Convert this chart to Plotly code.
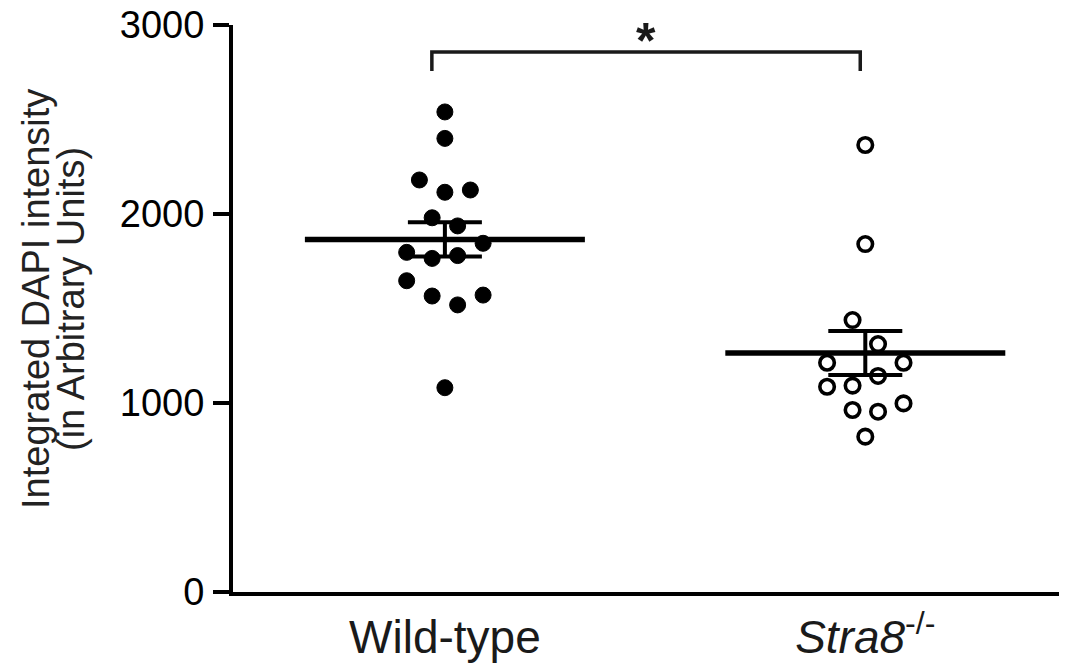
import numpy as np
import plotly.graph_objects as go

# ---- data ----
categories = ["Wild-type", "<i>Stra8</i><sup>-/-</sup>"]
wt_values = [2540, 2400, 2180, 2115, 2127, 1980, 1937, 1845, 1797, 1765,
             1780, 1647, 1566, 1519, 1571, 1081]
ko_values = [2365, 1841, 1439, 1312, 1213, 1213, 1143, 1086, 1092, 998,
             963, 954, 822]
y_ticks = [0, 1000, 2000, 3000]
y_title_lines = ["Integrated DAPI intensity", "(in Arbitrary Units)"]
sig_label = "*"

# ---- layout constants (scatter column slots, not data) ----
wt_slots = [0, 0, -2, 0, 2, -1, 1, 3, -3, -1, 1, -3, -1, 1, 3, 0]
ko_slots = [0, 0, -1, 1, -3, 3, 1, -3, -1, 3, -1, 1, 0]
slot_step = 0.0303
mean_half = 0.333
cat_x = [1, 2]

def stats(v):
    a = np.array(v, dtype=float)
    return a.mean(), a.std(ddof=1) / np.sqrt(len(a))

fig = go.Figure()

groups = [(wt_values, wt_slots, "circle", 16, 1), (ko_values, ko_slots, "circle-open", 14.5, 3.6)]
for cx, (vals, slots, sym, sz, lw) in zip(cat_x, groups):
    xs = [cx + s * slot_step for s in slots]
    fig.add_trace(go.Scatter(x=xs, y=vals, mode="markers",
                             marker=dict(symbol=sym, size=sz, color="black",
                                         line=dict(color="black", width=lw)),
                             showlegend=False, hoverinfo="y"))
    m, sem = stats(vals)
    fig.add_trace(go.Scatter(x=[cx - mean_half, cx + mean_half], y=[m, m], mode="lines",
                             line=dict(color="black", width=5.5), showlegend=False))
    fig.add_trace(go.Scatter(x=[cx], y=[m], mode="markers",
                             marker=dict(size=1, color="rgba(0,0,0,0)"),
                             error_y=dict(type="data", array=[sem], visible=True,
                                          color="black", thickness=4, width=37),
                             showlegend=False))

# significance bracket
bx0, bx1 = 0.969, 1.988
by_top, by_bot = 2857, 2757
fig.add_shape(type="path",
              path=f"M {bx0} {by_bot} L {bx0} {by_top} L {bx1} {by_top} L {bx1} {by_bot}",
              line=dict(color="#1a1a1a", width=3.5), xref="x", yref="y")
fig.add_annotation(x=(bx0 + bx1) / 2, y=2918, xref="x", yref="y", text="<b>" + sig_label + "</b>",
                   showarrow=False, font=dict(family="Liberation Sans", size=50, color="#1a1a1a"),
                   yanchor="middle", xanchor="center")

# y title as two rotated lines
for i, (txt, xs) in enumerate(zip(y_title_lines, [-197, -162])):
    fig.add_annotation(x=0, y=0.5168, xref="paper", yref="paper", text=txt, textangle=-90,
                       showarrow=False, xshift=xs, xanchor="center", yanchor="middle",
                       font=dict(family="Liberation Sans", size=38, color="#222222"))

# the page body adds an 8px margin, so the figure is sized to fit the window
fig.update_layout(
    width=1059, height=656,
    margin=dict(l=225, r=2, t=17, b=72, autoexpand=False),
    plot_bgcolor="white", paper_bgcolor="white",
    font=dict(family="Liberation Sans", color="black"),
    xaxis=dict(range=[0.496, 2.475], tickmode="array", tickvals=cat_x, ticktext=categories,
               showline=True, linecolor="black", linewidth=4, showgrid=False, zeroline=False,
               ticks="", tickfont=dict(size=46, color="#1a1a1a"), ticklabelstandoff=2,
               automargin=False, ticklabeloverflow="allow"),
    yaxis=dict(range=[0, 3000], tickmode="array", tickvals=y_ticks,
               showline=True, linecolor="black", linewidth=4, showgrid=False, zeroline=False,
               ticks="outside", ticklen=16, tickwidth=3.5, tickcolor="black",
               tickfont=dict(size=38, color="black"), ticklabelstandoff=1,
               automargin=False, ticklabeloverflow="allow"),
)

fig.write_html("out.html")
